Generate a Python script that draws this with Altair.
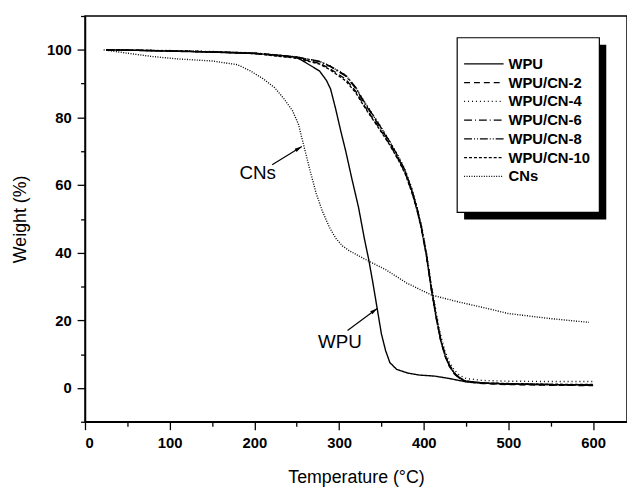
import altair as alt
import pandas as pd

FONT = "Liberation Sans, Arial, sans-serif"

series_names = ["WPU", "WPU/CN-2", "WPU/CN-4", "WPU/CN-6", "WPU/CN-8", "WPU/CN-10", "CNs"]
dash_styles = [[1, 0], [6, 4], [1, 3], [8, 3, 1, 3], [8, 2, 1, 2, 1, 2], [3, 2], [1, 1.5]]

# WPU
wpu_T = [25, 50, 100, 150, 200, 230, 250, 258, 270, 277, 285, 290, 296, 302, 308, 315, 323,
         330, 335, 340, 345, 350, 355, 360, 368, 381, 395, 413, 430, 450, 470, 500, 550, 600]
wpu_W = [100, 99.9, 99.6, 99.3, 98.9, 98.4, 97.8, 96.6, 94.8, 93.7, 91.0, 88.4, 82.5, 76.0, 69.9,
         62.0, 53.4, 44.0, 38.0, 31.0, 23.5, 16.0, 11.0, 7.5, 5.5, 4.4, 3.8, 3.5, 2.8, 1.8, 1.4,
         1.2, 1.0, 0.9]

# composites share a temperature grid
comp_T = [25, 100, 150, 200, 250, 277, 290, 308, 320, 327, 335, 347, 360, 370, 378, 386, 392,
          397, 403, 409, 415, 420, 425, 430, 436, 442, 450, 470, 500, 550, 600]
cn2_W = [100, 99.7, 99.4, 99.0, 97.6, 96.0, 94.3, 91.3, 87.6, 84.6, 81.5, 77.0, 72.0, 67.6, 63.6,
         58.0, 52.8, 47.5, 39.5, 29.5, 20.5, 14.0, 9.5, 6.5, 4.2, 2.8, 1.8, 1.3, 1.0, 0.8, 0.7]
cn4_W = [100, 99.8, 99.5, 99.1, 97.9, 96.6, 95.2, 92.5, 88.8, 85.8, 82.8, 78.2, 73.0, 68.6, 64.6,
         59.0, 53.8, 48.5, 40.5, 30.5, 21.8, 15.5, 11.0, 7.8, 5.3, 3.8, 2.8, 2.2, 2.0, 1.9, 1.9]
cn6_W = [100, 99.7, 99.4, 99.0, 97.8, 96.5, 95.0, 92.2, 88.5, 85.4, 82.3, 77.7, 72.5, 68.0, 64.0,
         58.3, 53.0, 47.6, 39.5, 29.0, 20.5, 14.2, 9.8, 6.8, 4.4, 3.0, 2.0, 1.5, 1.2, 1.0, 0.9]
cn8_W = [100, 99.7, 99.4, 99.0, 97.9, 96.6, 95.1, 92.4, 88.8, 85.7, 82.6, 78.0, 72.8, 68.3, 64.3,
         58.6, 53.3, 48.0, 40.0, 29.8, 21.0, 14.6, 10.2, 7.0, 4.6, 3.1, 2.0, 1.4, 1.1, 0.9, 0.8]
cn10_W = [100, 99.7, 99.4, 98.9, 97.5, 95.8, 94.0, 90.8, 87.2, 84.3, 81.2, 76.8, 71.8, 67.4, 63.4,
          57.8, 52.6, 47.3, 39.2, 29.0, 20.2, 14.0, 9.6, 6.6, 4.3, 2.9, 2.0, 1.5, 1.3, 1.1, 1.0]

# CNs
cns_T = [22, 50, 80, 110, 150, 180, 195, 210, 224, 235, 245, 252, 258, 265, 273, 280, 288, 296,
         304, 312, 320, 335, 355, 380, 409, 440, 470, 500, 550, 595]
cns_W = [100, 99.0, 98.0, 97.3, 96.7, 95.6, 93.8, 91.5, 88.8, 85.5, 82.0, 78.0, 72.0, 65.0, 57.5,
         52.5, 47.8, 44.3, 42.0, 40.6, 39.5, 37.5, 35.0, 31.0, 27.5, 25.5, 23.8, 22.0, 20.5, 19.4]

# axis ticks
x_major = [0, 100, 200, 300, 400, 500, 600]
x_minor = [50, 150, 250, 350, 450, 550]
y_major = [0, 20, 40, 60, 80, 100]
y_minor = [-10, 10, 30, 50, 70, 90, 110]

# annotations
ann_labels = ["CNs", "WPU"]
ann_text_T = [204, 301]
ann_text_W = [63.5, 13.7]
arrow_tail_T = [221, 310]
arrow_tail_W = [66.0, 17.0]
arrow_head_T = [256, 345]
arrow_head_W = [71.4, 23.5]
arrow_angle = [58.6, 53.3]

rows = []
def add(name, Ts, Ws):
    for t, w in zip(Ts, Ws):
        rows.append({"series": name, "T": t, "W": w})

add("WPU", wpu_T, wpu_W)
add("WPU/CN-2", comp_T, cn2_W)
add("WPU/CN-4", comp_T, cn4_W)
add("WPU/CN-6", comp_T, cn6_W)
add("WPU/CN-8", comp_T, cn8_W)
add("WPU/CN-10", comp_T, cn10_W)
add("CNs", cns_T, cns_W)
df = pd.DataFrame(rows)

ann_df = pd.DataFrame({"label": ann_labels, "tx": ann_text_T, "ty": ann_text_W})
arrow_df = pd.DataFrame({"x0": arrow_tail_T, "y0": arrow_tail_W,
                         "x1": arrow_head_T, "y1": arrow_head_W, "ang": arrow_angle})
minor_df = pd.DataFrame({"mx": [x_minor[0], x_minor[-1]], "my": [y_minor[0], y_minor[-1]]})

XT = "Temperature (°C)"
YT = "Weight (%)"
x_scale = alt.Scale(domain=[0, 640], nice=False, zero=False)
y_scale = alt.Scale(domain=[-10, 110], nice=False, zero=False)

common = dict(
    grid=False, format="d", labelOverlap=False,
    labelFont=FONT, labelFontSize=15, labelFontWeight="bold", labelColor="black",
    titleFont=FONT, titleFontSize=18, titleFontWeight="normal", titleColor="black",
    domainColor="black", domainWidth=1.5, tickColor="black", tickWidth=1.3,
)
x_axis = alt.Axis(title=XT, orient="bottom", values=x_major, tickSize=8,
                  labelPadding=6, titlePadding=19, **common)
y_axis = alt.Axis(title=YT, orient="left", values=y_major, tickSize=8,
                  labelPadding=6, titlePadding=17, **common)
x_axis_minor = alt.Axis(title=None, orient="bottom", values=x_minor, tickSize=4.5,
                        labels=False, domain=False, grid=False, tickColor="black", tickWidth=1.3)
y_axis_minor = alt.Axis(title=None, orient="left", values=y_minor, tickSize=4.5,
                        labels=False, domain=False, grid=False, tickColor="black", tickWidth=1.3)

lines = alt.Chart(df).mark_line(color="black", strokeWidth=1.4).encode(
    x=alt.X("T:Q", scale=x_scale, axis=x_axis),
    y=alt.Y("W:Q", scale=y_scale, axis=y_axis),
    strokeDash=alt.StrokeDash(
        "series:N",
        scale=alt.Scale(domain=series_names, range=dash_styles),
        sort=series_names,
        legend=alt.Legend(
            title=None, orient="none", legendX=383, legendY=41,
            symbolType="stroke", symbolSize=1600, symbolStrokeWidth=1.3,
            symbolStrokeColor="black", clipHeight=15, rowPadding=3.0,
            labelFont=FONT, labelFontSize=15, labelFontWeight="bold",
            labelColor="black", labelOffset=4, padding=0,
        ),
    ),
)

minor = alt.Chart(minor_df).mark_point(opacity=0).encode(
    x=alt.X("mx:Q", scale=x_scale, axis=x_axis_minor),
    y=alt.Y("my:Q", scale=y_scale, axis=y_axis_minor),
)

one = pd.DataFrame({"k": [0]})
shadow = alt.Chart(one).mark_rect(color="black").encode(
    x=alt.value(384), x2=alt.value(528), y=alt.value(29), y2=alt.value(206))
box = alt.Chart(one).mark_rect(fill="white", stroke="black", strokeWidth=1.2).encode(
    x=alt.value(377), x2=alt.value(521), y=alt.value(22), y2=alt.value(199))

rules = alt.Chart(arrow_df).mark_rule(color="black", strokeWidth=1.2).encode(
    x=alt.X("x0:Q", axis=None), y=alt.Y("y0:Q", axis=None), x2="x1:Q", y2="y1:Q")
heads = alt.Chart(arrow_df).mark_point(
    shape="M0,0L0.5,1.9L-0.5,1.9Z", filled=True, color="black", size=60, opacity=1
).encode(x=alt.X("x1:Q", axis=None), y=alt.Y("y1:Q", axis=None),
         angle=alt.Angle("ang:Q", scale=None))
texts = alt.Chart(ann_df).mark_text(font=FONT, fontSize=19, color="black").encode(
    x=alt.X("tx:Q", axis=None), y=alt.Y("ty:Q", axis=None), text="label:N")

chart = alt.layer(lines, minor, rules, heads, texts, shadow, box).resolve_axis(
    x="independent", y="independent"
).properties(
    width=549, height=411,
    autosize=alt.AutoSizeParams(type="none"),
    padding={"left": 78, "top": 5, "right": 0, "bottom": 65},
).configure_view(stroke="black", strokeWidth=1.5)

chart.save("out.html", embed_options={"renderer": "svg", "actions": False})
